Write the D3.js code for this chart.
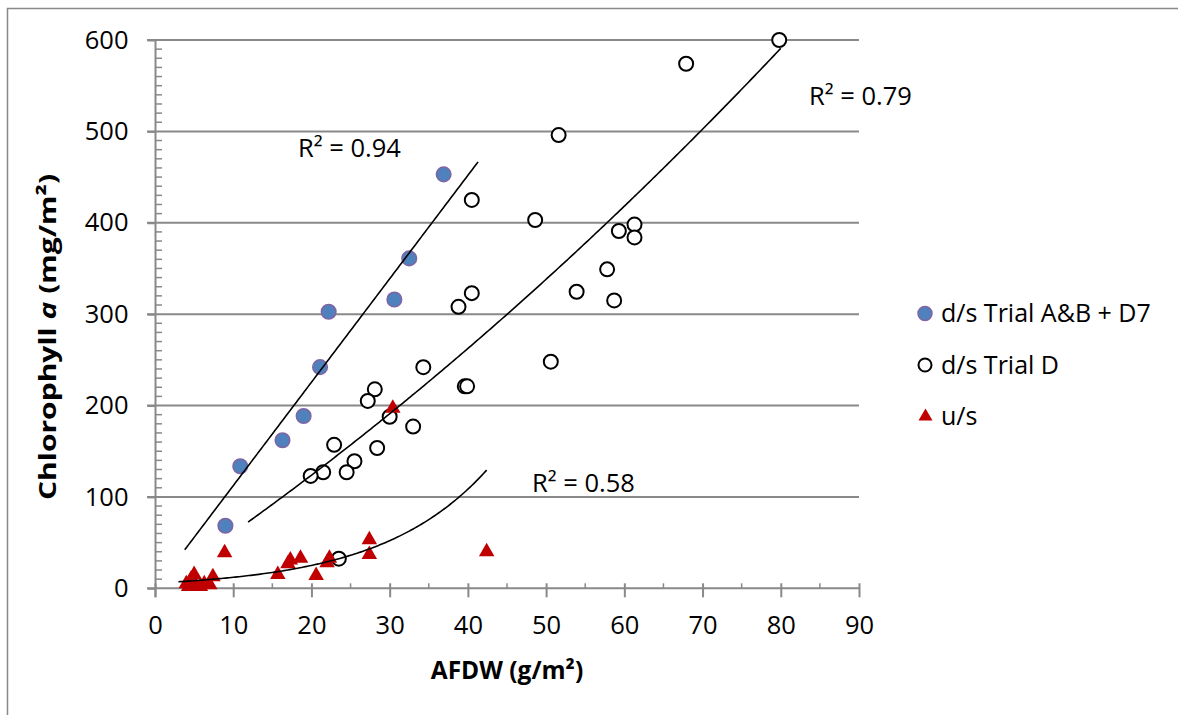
<!DOCTYPE html>
<html><head><meta charset="utf-8">
<script src="https://cdn.jsdelivr.net/npm/d3@7"></script>
<style>body{margin:0;background:#fff}svg{display:block}text{font-family:"Open Sans",sans-serif}</style>
</head><body><svg id="c" width="1178" height="715"></svg>
<script>
// ---- data ----
const blueX = [9.0, 10.9, 16.3, 19.0, 21.1, 22.2, 30.6, 32.5, 36.9];
const blueY = [68.5, 133.5, 162, 188.5, 242, 302.6, 316, 361, 453];

const trialDX = [79.8, 67.9, 51.6, 40.5, 48.6, 61.3, 59.3, 61.3, 57.8, 53.9, 58.7, 40.5, 38.8, 34.3, 50.6, 39.6, 39.9, 33.0, 28.1, 27.2, 30.0, 22.9, 28.4, 25.5, 21.5, 19.9, 24.5, 23.5];
const trialDY = [600, 574, 496, 425, 403, 398, 391, 384, 349, 324.5, 315, 323, 308, 242, 248, 221, 221, 177, 217.7, 205, 187.7, 157, 153.5, 139, 127, 123, 127, 32.4];

const usX = [4.0, 4.3, 4.6, 5.0, 5.2, 5.8, 6.3, 7.0, 7.4, 8.9, 15.7, 17.0, 17.3, 18.6, 20.6, 22.0, 22.3, 27.4, 27.4, 30.4, 42.4];
const usY = [5, 2, 10, 15, 3, 2, 5, 4, 12.7, 39, 15, 27, 31, 33, 14, 28, 33, 53, 37, 197, 40];

const seriesNames = ["d/s Trial A&B + D7", "d/s Trial D", "u/s"];

// trendlines: linear (slope, intercept), polynomial (a2, a1, a0), exponential (a, b)
const blueTrend = {coef: [11.32, -0.9], range: [3.8, 41.3], r2: "R² = 0.94"};
const trialDTrend = {coef: [0.02132, 5.653, 2.21], range: [11.9, 80], r2: "R² = 0.79"};
const usTrend = {coef: [5.78, 0.0733], range: [3.0, 42.4], r2: "R² = 0.58"};

const xTicks = [0, 10, 20, 30, 40, 50, 60, 70, 80, 90];
const yTicks = [0, 100, 200, 300, 400, 500, 600];

// ---- layout ----
const svg = d3.select("#c");
const x = d3.scaleLinear().domain([0, 90]).range([155, 859]);
const y = d3.scaleLinear().domain([0, 600]).range([588.3, 40]);
const grey = "#898989";

// outer frame
svg.append("path").attr("d", "M7.5,715 L7.5,8.5 L1178,8.5").attr("fill", "none").attr("stroke", grey).attr("stroke-width", 1.5);

// gridlines
svg.append("g").selectAll("line").data(yTicks.filter(d => d > 0)).join("line")
  .attr("x1", 147).attr("x2", 859).attr("y1", d => y(d)).attr("y2", d => y(d))
  .attr("stroke", grey).attr("stroke-width", 2);

// y axis
const yAxis = d3.axisLeft(y).tickValues(yTicks).tickSize(8).tickPadding(19).tickFormat(d3.format("d"));
const gy = svg.append("g").attr("transform", "translate(155.5,0)").call(yAxis);
gy.select(".domain").attr("stroke", grey).attr("stroke-width", 2).attr("d", `M0,${y(600)}V${y(0)+9}`);
gy.selectAll(".tick line").attr("stroke", grey).attr("stroke-width", 2);
gy.selectAll(".tick text").attr("font-size", 25.5).attr("fill", "#000").attr("font-family", "Open Sans");
const yMinor = d3.range(0, 601, 10).filter(d => d % 100 !== 0);
svg.append("g").selectAll("line").data(yMinor).join("line")
  .attr("x1", 155).attr("x2", 162).attr("y1", d => y(d)).attr("y2", d => y(d))
  .attr("stroke", grey).attr("stroke-width", 1.5);

// x axis
const xAxis = d3.axisBottom(x).tickValues(xTicks).tickSize(9).tickPadding(19).tickFormat(d3.format("d"));
const gx = svg.append("g").attr("transform", `translate(0,${y(0)})`).call(xAxis);
gx.select(".domain").attr("stroke", grey).attr("stroke-width", 2).attr("d", `M147,0H${x(90)}`);
gx.selectAll(".tick line").attr("stroke", grey).attr("stroke-width", 2).attr("y1", -5);
gx.selectAll(".tick text").attr("font-size", 25.5).attr("fill", "#000").attr("font-family", "Open Sans");
const xMinor = d3.range(5, 90, 10);
svg.append("g").selectAll("line").data(xMinor).join("line")
  .attr("x1", d => x(d)).attr("x2", d => x(d)).attr("y1", y(0) - 5).attr("y2", y(0))
  .attr("stroke", grey).attr("stroke-width", 1.5);

// axis titles
const yt = svg.append("text").attr("transform", "translate(56,337) rotate(-90) scale(1.25,1)")
  .attr("text-anchor", "middle").attr("font-size", 24).attr("font-weight", "bold").attr("fill", "#000");
yt.append("tspan").text("Chlorophyll ");
yt.append("tspan").attr("font-style", "italic").text("a");
yt.append("tspan").text(" (mg/m²)");
svg.append("text").attr("x", 507).attr("y", 679).attr("text-anchor", "middle")
  .attr("font-size", 24.5).attr("font-weight", "bold").attr("fill", "#000").text("AFDW (g/m²)");

// markers
const triPath = (w, h) => `M0,${-h*2/3}L${w/2},${h/3}L${-w/2},${h/3}Z`;
const blueData = blueX.map((d, i) => [d, blueY[i]]);
const dData = trialDX.map((d, i) => [d, trialDY[i]]);
const usData = usX.map((d, i) => [d, usY[i]]);

svg.append("g").selectAll("circle").data(blueData).join("circle")
  .attr("cx", d => x(d[0])).attr("cy", d => y(d[1])).attr("r", 7.3)
  .attr("fill", "#4F81BD").attr("stroke", "#8064A2").attr("stroke-width", 1.5);
svg.append("g").selectAll("circle").data(dData).join("circle")
  .attr("cx", d => x(d[0])).attr("cy", d => y(d[1])).attr("r", 7)
  .attr("fill", "#fff").attr("stroke", "#000").attr("stroke-width", 2);
svg.append("g").selectAll("path").data(usData).join("path")
  .attr("transform", d => `translate(${x(d[0])},${y(d[1])})`).attr("d", triPath(15.5, 13.5))
  .attr("fill", "#C00000");

// trendlines
const line = d3.line().x(d => x(d[0])).y(d => y(d[1]));
function trend(t, f) {
  const pts = d3.range(t.range[0], t.range[1], 0.25).concat([t.range[1]]).map(v => [v, f(v)]);
  svg.append("path").attr("d", line(pts)).attr("fill", "none").attr("stroke", "#000").attr("stroke-width", 1.6);
}
trend(blueTrend, v => blueTrend.coef[0] * v + blueTrend.coef[1]);
trend(trialDTrend, v => trialDTrend.coef[0] * v * v + trialDTrend.coef[1] * v + trialDTrend.coef[2]);
trend(usTrend, v => usTrend.coef[0] * Math.exp(usTrend.coef[1] * v));

// R² labels
const r2 = [[blueTrend.r2, 298, 157], [trialDTrend.r2, 809, 105], [usTrend.r2, 532, 492]];
svg.append("g").selectAll("text").data(r2).join("text")
  .attr("x", d => d[1]).attr("y", d => d[2]).attr("font-size", 25.5).attr("fill", "#000").text(d => d[0]);

// legend
const lg = svg.append("g");
const rows = [313.5, 365, 416.5];
lg.append("circle").attr("cx", 925).attr("cy", rows[0]).attr("r", 7).attr("fill", "#4F81BD").attr("stroke", "#8064A2").attr("stroke-width", 1.5);
lg.append("circle").attr("cx", 925).attr("cy", rows[1]).attr("r", 6.5).attr("fill", "#fff").attr("stroke", "#000").attr("stroke-width", 2);
lg.append("path").attr("transform", `translate(925.5,${rows[2]})`).attr("d", triPath(14, 12)).attr("fill", "#C00000");
lg.selectAll("text").data(seriesNames).join("text")
  .attr("x", 941).attr("y", (d, i) => rows[i] + 8.5).attr("font-size", 25).attr("fill", "#000").text(d => d);
</script></body></html>
